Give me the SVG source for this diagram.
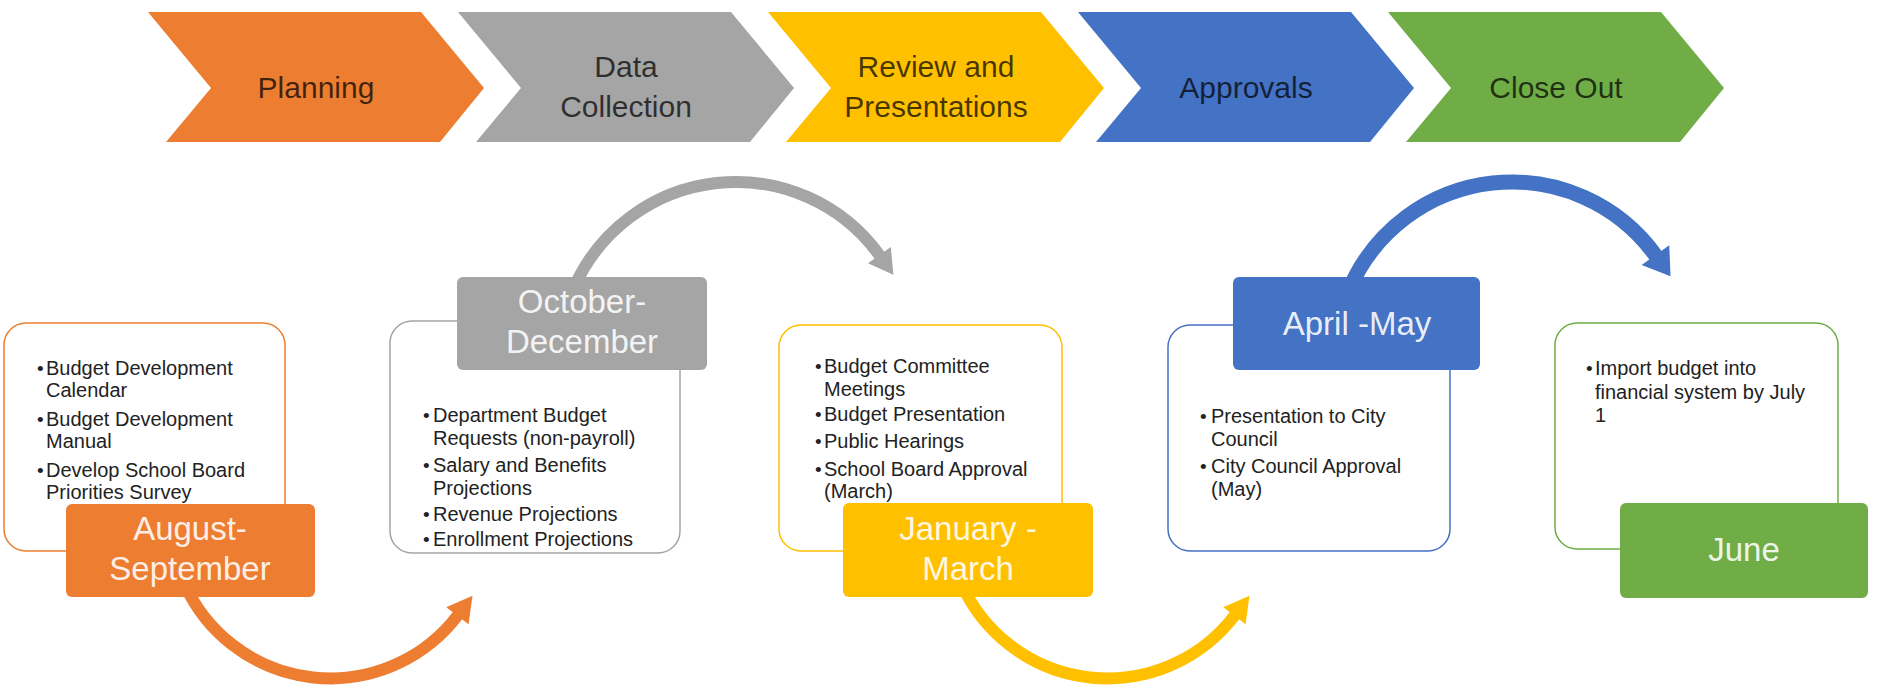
<svg xmlns="http://www.w3.org/2000/svg" width="1878" height="685" viewBox="0 0 1878 685">
  <defs>
    <style>
      .phase-label { font-family: "Liberation Sans", Arial, sans-serif; font-size: 30px; fill: #000; fill-opacity: 0.72; text-anchor: middle; }
      .card { fill: #fff; stroke-width: 1.5; }
      .tag-label { font-family: "Liberation Sans", Arial, sans-serif; font-size: 33px; fill: #fff; fill-opacity: 0.9; text-anchor: middle; }
      .item { font-family: "Liberation Sans", Arial, sans-serif; font-size: 20px; fill: #222; }
      .dot { font-size: 19px; }
      .arc { fill: none; }
      .orange { fill: #ED7D31; }
      .gray { fill: #A5A5A5; }
      .yellow { fill: #FFC000; }
      .blue { fill: #4472C4; }
      .green { fill: #70AD47; }
    </style>
    <marker id="head-orange" markerUnits="userSpaceOnUse" viewBox="-2 -16 28 32" markerWidth="28" markerHeight="32" refX="0" refY="0" orient="auto">
      <path d="M-1,-14 L24,0 L-1,14 Z" fill="#ED7D31"/>
    </marker>
    <marker id="head-gray" markerUnits="userSpaceOnUse" viewBox="-2 -16 28 32" markerWidth="28" markerHeight="32" refX="0" refY="0" orient="auto">
      <path d="M-1,-14 L23,0 L-1,14 Z" fill="#A5A5A5"/>
    </marker>
    <marker id="head-yellow" markerUnits="userSpaceOnUse" viewBox="-2 -16 28 32" markerWidth="28" markerHeight="32" refX="0" refY="0" orient="auto">
      <path d="M-1,-14 L24,0 L-1,14 Z" fill="#FFC000"/>
    </marker>
    <marker id="head-blue" markerUnits="userSpaceOnUse" viewBox="-2 -19 30 38" markerWidth="30" markerHeight="38" refX="0" refY="0" orient="auto">
      <path d="M-1,-17 L25,0 L-1,17 Z" fill="#4472C4"/>
    </marker>
  </defs>

  <!-- phase banner -->
  <g id="phase-planning">
    <polygon class="orange" points="148,12 421,12 484,88 440,142 166,142 211,88"/>
    <text class="phase-label" x="316" y="98">Planning</text>
  </g>
  <g id="phase-data-collection">
    <polygon class="gray" points="458,12 731,12 794,88 750,142 476,142 521,88"/>
    <text class="phase-label" x="626" y="77">Data</text>
    <text class="phase-label" x="626" y="117">Collection</text>
  </g>
  <g id="phase-review">
    <polygon class="yellow" points="768,12 1041,12 1104,88 1060,142 786,142 831,88"/>
    <text class="phase-label" x="936" y="77">Review and</text>
    <text class="phase-label" x="936" y="117">Presentations</text>
  </g>
  <g id="phase-approvals">
    <polygon class="blue" points="1078,12 1351,12 1414,88 1370,142 1096,142 1141,88"/>
    <text class="phase-label" x="1246" y="98">Approvals</text>
  </g>
  <g id="phase-close-out">
    <polygon class="green" points="1388,12 1661,12 1724,88 1680,142 1406,142 1451,88"/>
    <text class="phase-label" x="1556" y="98">Close Out</text>
  </g>

  <!-- curved arrows between the period cards -->
  <g id="connectors">
    <path class="arc" d="M185,585 A160,160 0 0 0 458,615" stroke="#ED7D31" stroke-width="12" marker-end="url(#head-orange)"/>
    <path class="arc" d="M573,290 A177,177 0 0 1 880,256" stroke="#A5A5A5" stroke-width="12" marker-end="url(#head-gray)"/>
    <path class="arc" d="M962,585 A160,160 0 0 0 1235,615" stroke="#FFC000" stroke-width="12" marker-end="url(#head-yellow)"/>
    <path class="arc" d="M1349,290 A177,177 0 0 1 1656,256" stroke="#4472C4" stroke-width="15" marker-end="url(#head-blue)"/>
  </g>

  <!-- August - September -->
  <g id="stage-aug-sep">
    <rect class="card" x="4" y="323" width="281" height="228" rx="22" stroke="#ED7D31"/>
    <text class="item" y="375"><tspan class="dot" x="37">•</tspan><tspan x="46">Budget Development</tspan></text>
    <text class="item" x="46" y="397">Calendar</text>
    <text class="item" y="426"><tspan class="dot" x="37">•</tspan><tspan x="46">Budget Development</tspan></text>
    <text class="item" x="46" y="448">Manual</text>
    <text class="item" y="477"><tspan class="dot" x="37">•</tspan><tspan x="46">Develop School Board</tspan></text>
    <text class="item" x="46" y="499">Priorities Survey</text>
    <rect class="orange" x="66" y="504" width="249" height="93" rx="6"/>
    <text class="tag-label" x="190" y="540">August-</text>
    <text class="tag-label" x="190" y="580">September</text>
  </g>

  <!-- October - December -->
  <g id="stage-oct-dec">
    <rect class="card" x="390" y="321" width="290" height="232" rx="22" stroke="#A5A5A5"/>
    <text class="item" y="422"><tspan class="dot" x="423">•</tspan><tspan x="433">Department Budget</tspan></text>
    <text class="item" x="433" y="445">Requests (non-payroll)</text>
    <text class="item" y="472"><tspan class="dot" x="423">•</tspan><tspan x="433">Salary and Benefits</tspan></text>
    <text class="item" x="433" y="495">Projections</text>
    <text class="item" y="521"><tspan class="dot" x="423">•</tspan><tspan x="433">Revenue Projections</tspan></text>
    <text class="item" y="546"><tspan class="dot" x="423">•</tspan><tspan x="433">Enrollment Projections</tspan></text>
    <rect class="gray" x="457" y="277" width="250" height="93" rx="6"/>
    <text class="tag-label" x="582" y="313">October-</text>
    <text class="tag-label" x="582" y="353">December</text>
  </g>

  <!-- January - March -->
  <g id="stage-jan-mar">
    <rect class="card" x="779" y="325" width="283" height="226" rx="22" stroke="#FFC000"/>
    <text class="item" y="373"><tspan class="dot" x="815">•</tspan><tspan x="824">Budget Committee</tspan></text>
    <text class="item" x="824" y="396">Meetings</text>
    <text class="item" y="421"><tspan class="dot" x="815">•</tspan><tspan x="824">Budget Presentation</tspan></text>
    <text class="item" y="448"><tspan class="dot" x="815">•</tspan><tspan x="824">Public Hearings</tspan></text>
    <text class="item" y="476"><tspan class="dot" x="815">•</tspan><tspan x="824">School Board Approval</tspan></text>
    <text class="item" x="824" y="498">(March)</text>
    <rect class="yellow" x="843" y="503" width="250" height="94" rx="6"/>
    <text class="tag-label" x="968" y="540">January -</text>
    <text class="tag-label" x="968" y="580">March</text>
  </g>

  <!-- April - May -->
  <g id="stage-apr-may">
    <rect class="card" x="1168" y="325" width="282" height="226" rx="22" stroke="#4472C4"/>
    <text class="item" y="423"><tspan class="dot" x="1200">•</tspan><tspan x="1211">Presentation to City</tspan></text>
    <text class="item" x="1211" y="446">Council</text>
    <text class="item" y="473"><tspan class="dot" x="1200">•</tspan><tspan x="1211">City Council Approval</tspan></text>
    <text class="item" x="1211" y="496">(May)</text>
    <rect class="blue" x="1233" y="277" width="247" height="93" rx="6"/>
    <text class="tag-label" x="1357" y="335">April -May</text>
  </g>

  <!-- June -->
  <g id="stage-june">
    <rect class="card" x="1555" y="323" width="283" height="226" rx="22" stroke="#70AD47"/>
    <text class="item" y="375"><tspan class="dot" x="1586">•</tspan><tspan x="1595">Import budget into</tspan></text>
    <text class="item" x="1595" y="399">financial system by July</text>
    <text class="item" x="1595" y="422">1</text>
    <rect class="green" x="1620" y="503" width="248" height="95" rx="6"/>
    <text class="tag-label" x="1744" y="561">June</text>
  </g>
</svg>
